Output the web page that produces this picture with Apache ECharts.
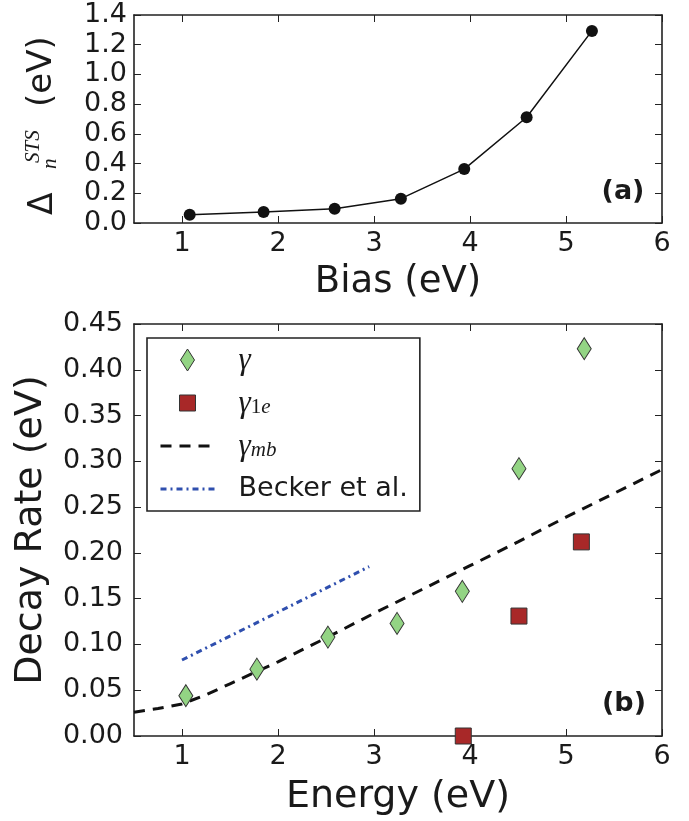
<!DOCTYPE html>
<html>
<head>
<meta charset="utf-8">
<script src="https://cdn.jsdelivr.net/npm/echarts@6/dist/echarts.min.js"></script>
<style>
html,body{margin:0;padding:0;background:#fff;}
#c{width:689px;height:821px;}
</style>
</head>
<body>
<div id="c"></div>
<script>
// ---- Panel (a) data ----
var biasX = [1.08, 1.85, 2.59, 3.28, 3.94, 4.59, 5.27];
var deltaSTS = [0.056, 0.074, 0.096, 0.164, 0.363, 0.712, 1.293];
var topYTicks = [0.0, 0.2, 0.4, 0.6, 0.8, 1.0, 1.2, 1.4];
var xTicks = [1, 2, 3, 4, 5, 6];

// ---- Panel (b) data ----
var gammaX = [1.04, 1.78, 2.52, 3.24, 3.92, 4.51, 5.19];
var gammaY = [0.044, 0.073, 0.108, 0.123, 0.158, 0.292, 0.423];
var gamma1eX = [3.93, 4.51, 5.16];
var gamma1eY = [0.0, 0.131, 0.212];
var mbX = [0.5, 0.75, 1.0, 1.25, 1.5, 1.75, 2.0, 2.5, 3.0, 3.5, 4.0, 4.5, 5.0, 5.5, 6.0];
var mbY = [0.026, 0.030, 0.035, 0.045, 0.057, 0.069, 0.081, 0.107, 0.134, 0.160, 0.186, 0.212, 0.239, 0.265, 0.291];
var beckerX = [1.0, 2.95];
var beckerY = [0.083, 0.185];
var botYTicks = [0.00, 0.05, 0.10, 0.15, 0.20, 0.25, 0.30, 0.35, 0.40, 0.45];

function pairs(xs, ys){ return xs.map(function(x,i){ return [x, ys[i]]; }); }

var FONT = 'DejaVu Sans';
var INK = '#1a1a1a';
var FRAME = '#222';

function frameAxis(extra){
  var a = {
    axisLine: {show: true, onZero: false, lineStyle: {color: FRAME, width: 1.6}},
    axisTick: {show: true, inside: true, length: 7, lineStyle: {color: FRAME, width: 1}},
    splitLine: {show: false},
    axisLabel: {show: false}
  };
  for (var k in extra) a[k] = extra[k];
  return a;
}

var chart = echarts.init(document.getElementById('c'), null, {renderer: 'canvas'});

var option = {
  animation: false,
  backgroundColor: '#fff',
  grid: [
    {left: 134, top: 15, width: 528, height: 208},
    {left: 134, top: 324, width: 528, height: 418}
  ],
  xAxis: [
    frameAxis({type: 'value', gridIndex: 0, position: 'bottom', min: 0.5, max: 6,
      axisTick: {show: true, inside: true, length: 7, customValues: xTicks, lineStyle: {color: FRAME, width: 1}},
      axisLabel: {show: true, customValues: xTicks, margin: 7, fontFamily: FONT, fontSize: 27, color: INK},
      name: 'Bias (eV)', nameLocation: 'middle', nameGap: 41,
      nameTextStyle: {fontFamily: FONT, fontSize: 37, color: INK}}),
    frameAxis({type: 'value', gridIndex: 0, position: 'top', min: 0.5, max: 6,
      axisTick: {show: true, inside: true, length: 7, customValues: xTicks, lineStyle: {color: FRAME, width: 1}}}),
    frameAxis({type: 'value', gridIndex: 1, position: 'bottom', min: 0.5, max: 6,
      axisTick: {show: true, inside: true, length: 7, customValues: xTicks, lineStyle: {color: FRAME, width: 1}},
      axisLabel: {show: true, customValues: xTicks, margin: 7, fontFamily: FONT, fontSize: 27, color: INK},
      name: 'Energy (eV)', nameLocation: 'middle', nameGap: 42,
      nameTextStyle: {fontFamily: FONT, fontSize: 38, color: INK}}),
    frameAxis({type: 'value', gridIndex: 1, position: 'top', min: 0.5, max: 6,
      axisTick: {show: true, inside: true, length: 7, customValues: xTicks, lineStyle: {color: FRAME, width: 1}}})
  ],
  yAxis: [
    frameAxis({type: 'value', gridIndex: 0, position: 'left', min: 0, max: 1.4, interval: 0.2,
      axisLabel: {show: true, margin: 7, fontFamily: FONT, fontSize: 27, color: INK,
        customValues: topYTicks, formatter: function(v){ return v.toFixed(1); }}}),
    frameAxis({type: 'value', gridIndex: 0, position: 'right', min: 0, max: 1.4, interval: 0.2}),
    frameAxis({type: 'value', gridIndex: 1, position: 'left', min: 0, max: 0.45, interval: 0.05,
      axisLabel: {show: true, margin: 11, fontFamily: FONT, fontSize: 27, color: INK,
        customValues: botYTicks, formatter: function(v){ return v.toFixed(2); }},
      name: 'Decay Rate (eV)', nameLocation: 'middle', nameGap: 84,
      nameTextStyle: {fontFamily: FONT, fontSize: 38, color: INK}}),
    frameAxis({type: 'value', gridIndex: 1, position: 'right', min: 0, max: 0.45, interval: 0.05})
  ],
  legend: {
    orient: 'vertical',
    left: 147, top: 338,
    padding: [7, 12, 7, 12],
    borderColor: FRAME, borderWidth: 1.6, borderRadius: 0,
    backgroundColor: '#fff',
    itemWidth: 54, itemHeight: 22, itemGap: 12,
    symbolKeepAspect: true,
    selectedMode: false,
    textStyle: {fontFamily: FONT, fontSize: 27, color: INK, lineHeight: 30, padding: [0, 0, 0, 19],
      rich: {
        g: {fontFamily: 'Liberation Serif', fontStyle: 'italic', fontSize: 31, color: INK, lineHeight: 30, verticalAlign: 'top'},
        r: {fontFamily: 'Liberation Serif', fontSize: 21, color: INK, lineHeight: 20, verticalAlign: 'bottom'},
        s: {fontFamily: 'Liberation Serif', fontStyle: 'italic', fontSize: 21, color: INK, lineHeight: 20, verticalAlign: 'bottom'}
      }},
    formatter: function(name){
      if (name === 'γ') return '{g|γ}';
      if (name === 'γ1e') return '{g|γ}{r|1}{s|e}';
      if (name === 'γmb') return '{g|γ}{s|mb}';
      return name;
    },
    data: [
      {name: 'γ', icon: 'path://M7,0L14,11L7,22L0,11Z',
        itemStyle: {color: '#93d484', borderColor: '#333', borderWidth: 1}},
      {name: 'γ1e', icon: 'path://M0,0M22,22M3,3L19,3L19,19L3,19Z',
        itemStyle: {color: '#a82828', borderColor: '#333', borderWidth: 1}},
      {name: 'γmb', itemStyle: {opacity: 0}, lineStyle: {color: '#111', width: 3, type: [11, 8]}},
      {name: 'Becker et al.', itemStyle: {opacity: 0}, lineStyle: {color: '#2f4fae', width: 3, type: [6, 4, 2, 4]}}
    ]
  },
  graphic: [
    {type: 'group', x: 0, y: 215, rotation: Math.PI / 2, silent: true,
      children: [
        {type: 'text', x: 0, y: 43.5, style: {text: 'Δ', fontFamily: FONT, fontSize: 33, fill: INK, align: 'left', verticalAlign: 'middle'}},
        {type: 'text', x: 52, y: 33, style: {text: 'STS', fontFamily: 'Liberation Serif', fontStyle: 'italic', fontSize: 21, fill: INK, align: 'left', verticalAlign: 'middle'}},
        {type: 'text', x: 46, y: 50, style: {text: 'n', fontFamily: 'Liberation Serif', fontStyle: 'italic', fontSize: 21, fill: INK, align: 'left', verticalAlign: 'middle'}},
        {type: 'text', x: 108, y: 42.5, style: {text: '(eV)', fontFamily: FONT, fontSize: 34, fill: INK, align: 'left', verticalAlign: 'middle'}}
      ]},
    {type: 'text', x: 623, y: 192, silent: true,
      style: {text: '(a)', fontFamily: FONT, fontWeight: 'bold', fontSize: 27, fill: INK, align: 'center', verticalAlign: 'middle'}},
    {type: 'text', x: 624, y: 704, silent: true,
      style: {text: '(b)', fontFamily: FONT, fontWeight: 'bold', fontSize: 27, fill: INK, align: 'center', verticalAlign: 'middle'}}
  ],
  series: [
    {type: 'line', name: 'delta', xAxisIndex: 0, yAxisIndex: 0, data: pairs(biasX, deltaSTS),
      symbol: 'circle', symbolSize: 12, showSymbol: true,
      itemStyle: {color: '#111'}, lineStyle: {color: '#111', width: 1.5}},
    {type: 'line', name: 'γmb', xAxisIndex: 2, yAxisIndex: 2, data: pairs(mbX, mbY),
      symbol: 'none', smooth: false, z: 2,
      itemStyle: {color: '#111'},
      lineStyle: {color: '#111', width: 3, type: [11, 8]}},
    {type: 'line', name: 'Becker et al.', xAxisIndex: 2, yAxisIndex: 2, data: pairs(beckerX, beckerY),
      symbol: 'none', z: 2,
      itemStyle: {color: '#2f4fae'},
      lineStyle: {color: '#2f4fae', width: 3, type: [6, 4, 2, 4]}},
    {type: 'scatter', name: 'γ', xAxisIndex: 2, yAxisIndex: 2, data: pairs(gammaX, gammaY),
      symbol: 'diamond', symbolSize: [14, 22], z: 3,
      itemStyle: {color: '#93d484', borderColor: '#333', borderWidth: 1, opacity: 1}},
    {type: 'scatter', name: 'γ1e', xAxisIndex: 2, yAxisIndex: 2, data: pairs(gamma1eX, gamma1eY),
      symbol: 'rect', symbolSize: 16, z: 3, clip: true,
      itemStyle: {color: '#a82828', borderColor: '#333', borderWidth: 1, opacity: 1}}
  ]
};
chart.setOption(option);
</script>
</body>
</html>
